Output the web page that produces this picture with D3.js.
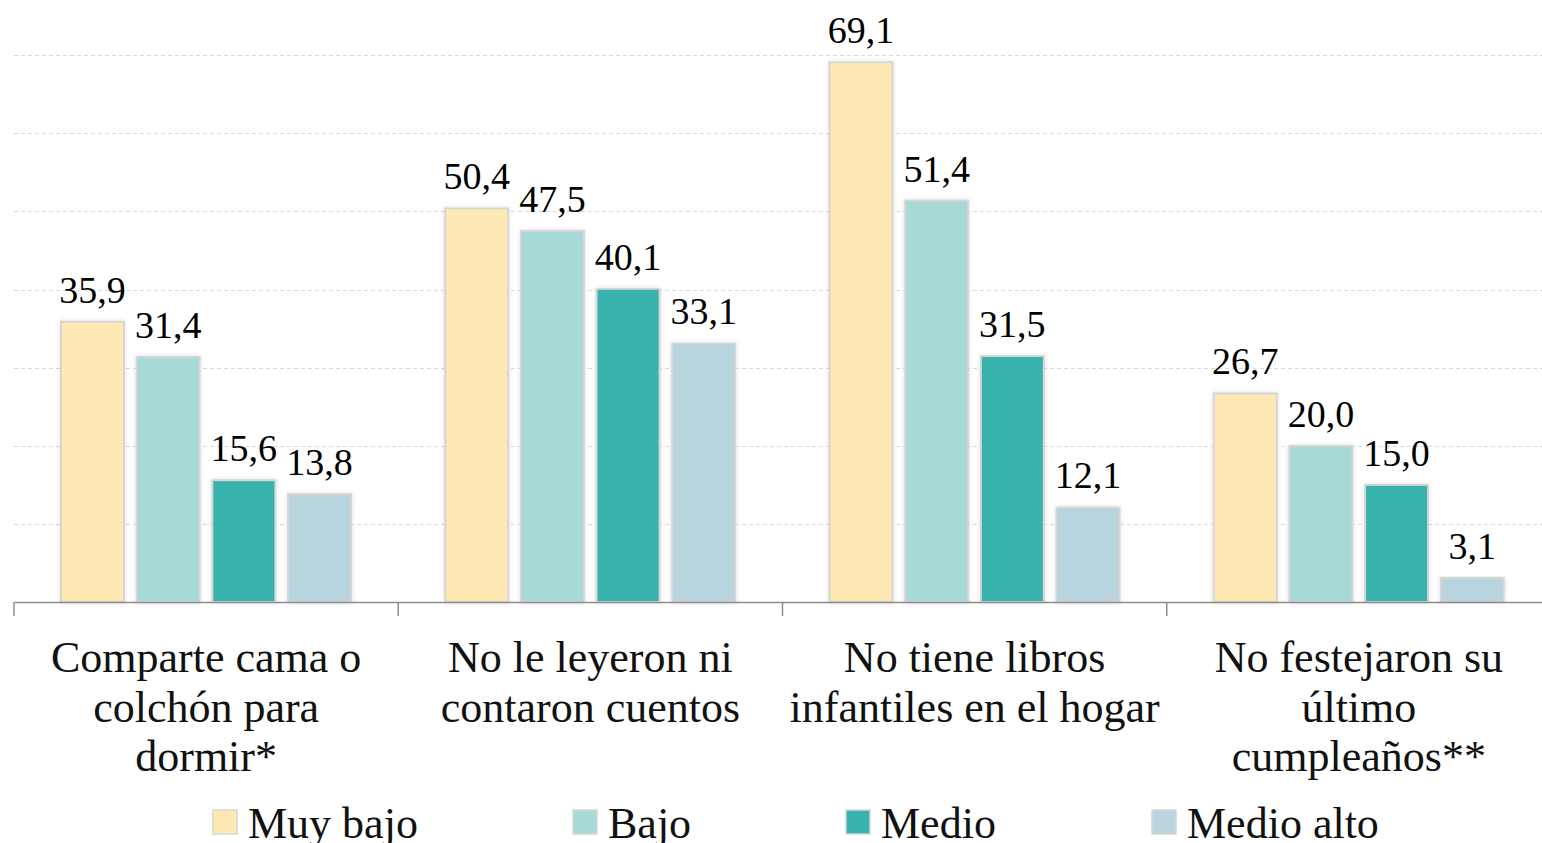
<!DOCTYPE html>
<html>
<head>
<meta charset="utf-8">
<script src="https://cdn.jsdelivr.net/npm/d3@7"></script>
<style>
  html, body { margin: 0; padding: 0; background: #fff; overflow: hidden; }
  svg { display: block; font-family: "Liberation Serif", "DejaVu Serif", serif; }
</style>
</head>
<body>
<div id="chart"></div>
<script>
const categories = [
	["Comparte cama o", "colchón para", "dormir*"],
	["No le leyeron ni", "contaron cuentos"],
	["No tiene libros", "infantiles en el hogar"],
	["No festejaron su", "último", "cumpleaños**"]
]
const series = ["Muy bajo", "Bajo", "Medio", "Medio alto"]
const muyBajo = [35.9, 50.4, 69.1, 26.7]
const bajo = [31.4, 47.5, 51.4, 20.0]
const medio = [15.6, 40.1, 31.5, 15.0]
const medioAlto = [13.8, 33.1, 12.1, 3.1]
const values = [muyBajo, bajo, medio, medioAlto]
const gridTicks = [0, 10, 20, 30, 40, 50, 60, 70]

const colors = ["#fee9b4", "#a7d9d7", "#37b2ad", "#b8d4df"]
const legendX = [213, 573, 846, 1152]

const width = 1542, height = 843
const baseY = 602

const svg = d3.select("#chart")
	.append("svg")
	.attr("width", width)
	.attr("height", height)

const defs = svg.append("defs")
const shadow = defs.append("filter")
	.attr("id", "shadow")
	.attr("x", "-20%").attr("y", "-5%")
	.attr("width", "140%").attr("height", "110%")
shadow.append("feDropShadow")
	.attr("dx", 0).attr("dy", 0)
	.attr("stdDeviation", 2)
	.attr("flood-color", "#000")
	.attr("flood-opacity", 0.12)

const x0 = d3.scaleBand()
	.domain(d3.range(categories.length))
	.range([14, 1551])

const x1 = d3.scaleBand()
	.domain(d3.range(series.length))
	.range([47, 337])
	.paddingInner(0.167)

const y = d3.scaleLinear()
	.domain([0, 70])
	.range([baseY, baseY - 546.7])

// grid
svg.append("g")
	.selectAll("line")
	.data(gridTicks.slice(1))
	.join("line")
	.attr("x1", 14)
	.attr("x2", width)
	.attr("y1", d => Math.round(y(d)) + 0.5)
	.attr("y2", d => Math.round(y(d)) + 0.5)
	.attr("stroke", "#d9d9d9")
	.attr("stroke-width", 1)
	.attr("stroke-dasharray", "4,3")

// bars
const groups = svg.append("g")
	.selectAll("g")
	.data(categories.map((c, i) => i))
	.join("g")
	.attr("transform", i => `translate(${x0(i)},0)`)

groups.selectAll("rect")
	.data(i => values.map((s, j) => ({ j, v: s[i] })))
	.join("rect")
	.attr("x", d => x1(d.j))
	.attr("y", d => y(d.v))
	.attr("width", x1.bandwidth())
	.attr("height", d => baseY - y(d.v))
	.attr("fill", d => colors[d.j])
	.attr("stroke", "#d6d6d6")
	.attr("stroke-width", 2)
	.attr("filter", "url(#shadow)")

groups.selectAll("text.val")
	.data(i => values.map((s, j) => ({ j, v: s[i] })))
	.join("text")
	.attr("class", "val")
	.attr("x", d => x1(d.j) + x1.bandwidth() / 2)
	.attr("y", d => y(d.v) - 19)
	.attr("text-anchor", "middle")
	.attr("font-size", 38)
	.attr("fill", "#000")
	.text(d => d3.format(".1f")(d.v).replace(".", ","))

// x axis
const axis = svg.append("g")
	.attr("transform", `translate(0,${baseY})`)
	.call(d3.axisBottom(x0).tickValues([]).tickSizeOuter(0))
axis.select(".domain").attr("stroke", "#8c8c8c").attr("stroke-width", 1.5)
axis.selectAll(".sep")
	.data(d3.range(categories.length + 1))
	.join("line")
	.attr("class", "sep")
	.attr("x1", i => i < categories.length ? x0(i) : x0.range()[1])
	.attr("x2", i => i < categories.length ? x0(i) : x0.range()[1])
	.attr("y1", 0)
	.attr("y2", 14)
	.attr("stroke", "#8c8c8c")
	.attr("stroke-width", 1.5)

// category labels
svg.append("g")
	.selectAll("text")
	.data(categories)
	.join("text")
	.attr("x", (c, i) => x0(i) + x0.bandwidth() / 2)
	.attr("y", 672)
	.attr("text-anchor", "middle")
	.attr("font-size", 44)
	.attr("fill", "#111")
	.selectAll("tspan")
	.data(c => c)
	.join("tspan")
	.attr("x", function () { return this.parentNode.getAttribute("x") })
	.attr("dy", (d, k) => k === 0 ? 0 : 49.5)
	.text(d => d)

// legend
const legend = svg.append("g")
	.selectAll("g")
	.data(series)
	.join("g")
	.attr("transform", (d, i) => `translate(${legendX[i]},810)`)

legend.append("rect")
	.attr("width", 24)
	.attr("height", 24)
	.attr("fill", (d, i) => colors[i])
	.attr("stroke", "#d6d6d6")
	.attr("stroke-width", 1.5)

legend.append("text")
	.attr("x", 35)
	.attr("y", 28)
	.attr("font-size", 44)
	.attr("fill", "#111")
	.text(d => d)
</script>
</body>
</html>
